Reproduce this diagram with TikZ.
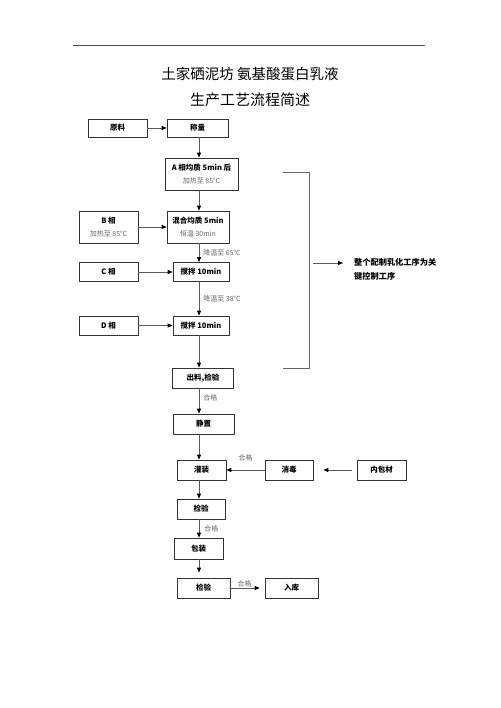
\documentclass[tikz,border=0pt]{standalone}
\usepackage{fontspec}
\setmainfont{Noto Sans CJK SC}
\usetikzlibrary{positioning, arrows.meta, calc}
\newcommand\subline[1]{{\mdseries\fontsize{7}{8}\selectfont\color{black!60}#1}}

\begin{document}
\begin{tikzpicture}[x=1pt, y=-1pt,
  procbox/.style={inner sep=0pt, align=center, draw=black!80,
    line width=0.7pt, font=\fontsize{7.5}{13}\selectfont\bfseries},
  flow/.style={black!65, line width=0.8pt,
    -{Triangle[length=5pt,width=4pt,color=black]}},
  remark/.style={text=black!60, inner sep=1pt,
    font=\fontsize{7}{8}\selectfont}]
  \useasboundingbox (0,0) rectangle (500,708);
  % header rule and title
  \draw[black!70, line width=0.6pt] (73,45) -- (425,45);
  \node (title1) at (250,74) {\fontsize{14.5}{17}\selectfont 土家硒泥坊\ 氨基酸蛋白乳液};
  \node (title2) at (250,100) {\fontsize{15}{17}\selectfont 生产工艺流程简述};
  \coordinate (axis) at (199,0);
  % main column
  \node[procbox, minimum width=59, minimum height=18] (raw) at (117.5,128) {原料};
  \node[procbox, minimum width=61, minimum height=18] (weigh) at (197.5,128) {称量};
  \node[procbox, minimum width=73, minimum height=32] (phA) at (201.5,174)
    {A 相均质 5min 后\\\subline{加热至 85℃}};
  \node[procbox, minimum width=59, minimum height=32] (phB) at (108.5,227)
    {B 相\\\subline{加热至 85℃}};
  \node[procbox, minimum width=62, minimum height=32] (mix) at (198,227)
    {混合均质 5min\\\subline{恒温 30min}};
  \node[procbox, minimum width=59, minimum height=19] (phC) at (108.5,272) {C 相};
  \node[procbox, minimum width=56, minimum height=19] (stir1) at (201,272) {搅拌 10min};
  \node[procbox, minimum width=59, minimum height=19] (phD) at (108.5,325.5) {D 相};
  \node[procbox, minimum width=56, minimum height=19] (stir2) at (201,325.5) {搅拌 10min};
  \node[procbox, minimum width=61, minimum height=20] (out) at (203,378) {出料,检验};
  \node[procbox, minimum width=61, minimum height=20] (rest) at (203.5,424) {静置};
  \node[procbox, minimum width=49, minimum height=20] (fill) at (201.5,470) {灌装};
  \node[procbox, minimum width=48, minimum height=20] (steril) at (289,470) {消毒};
  \node[procbox, minimum width=49, minimum height=20] (inner) at (381.5,470) {内包材};
  \node[procbox, minimum width=48, minimum height=20] (check1) at (201,509) {检验};
  \node[procbox, minimum width=49, minimum height=21] (bag) at (198.5,548.5) {包装};
  \node[procbox, minimum width=53, minimum height=20] (check2) at (203.5,588) {检验};
  \node[procbox, minimum width=53, minimum height=20] (store) at (291.5,588) {入库};
  % side bracket and note
  \coordinate (brtop) at (283,172);
  \coordinate (brbot) at (283,368);
  \coordinate (brmid) at (313,263);
  \draw[black!60, line width=0.9pt] (brtop) -- ++(26,0) |- (brbot);
  \node[anchor=west, align=left, inner sep=0pt,
    font=\fontsize{8.2}{14}\selectfont\bfseries] (note) at (354,269)
    {整个配制乳化工序为关\\键控制工序};
  \draw[flow, shorten >=11pt] (brmid) -- (brmid -| note.west);
  % arrows
  \draw[flow] (raw) -- (weigh);
  \draw[flow] (weigh.south -| axis) -- (phA.north -| axis);
  \draw[flow] (phA.south -| axis) -- (mix.north -| axis);
  \draw[flow] (phB) -- (mix);
  \draw[flow] (mix.south -| axis) -- (stir1.north -| axis)
    node[midway, right, remark, xshift=3pt] {降温至 65℃};
  \draw[flow] (phC) -- (stir1);
  \draw[flow] (stir1.south -| axis) -- (stir2.north -| axis)
    node[midway, right, remark, xshift=3pt] {降温至 38℃};
  \draw[flow] (phD) -- (stir2);
  \draw[flow] (stir2.south -| axis) -- (out.north -| axis);
  \draw[flow] (out.south -| axis) -- (rest.north -| axis)
    node[midway, right, remark, xshift=3pt, yshift=3pt] {合格};
  \draw[flow] (rest.south -| axis) -- (fill.north -| axis);
  \draw[flow, shorten <=5pt, shorten >=10pt] (inner) -- (steril);
  \draw[flow] (steril) -- (fill)
    node[midway, above, remark, yshift=8pt] {合格};
  \draw[flow] (fill.south -| axis) -- (check1.north -| axis);
  \draw[flow] (check1.south -| axis) -- (bag.north -| axis)
    node[midway, right, remark, xshift=4pt] {合格};
  \draw[flow, shorten >=5pt] (bag.south -| axis) -- (check2.north -| axis);
  \draw[flow, shorten >=5pt] (check2) -- (store)
    node[midway, above, remark, xshift=-3pt] {合格};
\end{tikzpicture}
\end{document}
